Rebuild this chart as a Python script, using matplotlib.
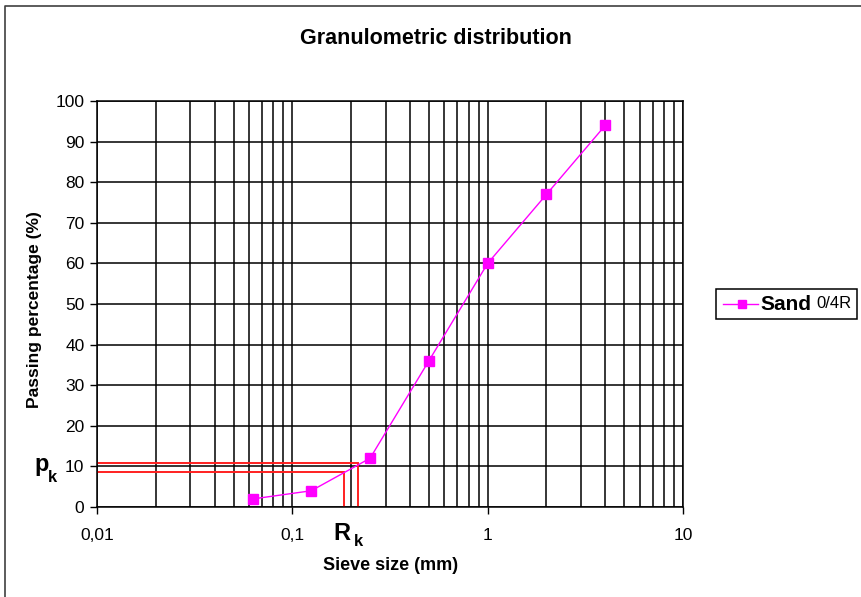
import matplotlib
matplotlib.use("Agg")
import matplotlib.pyplot as plt
from matplotlib.lines import Line2D
import numpy as np

plt.rcParams['font.family'] = ['Liberation Sans', 'DejaVu Sans']

sieve_mm = [0.063, 0.125, 0.25, 0.5, 1, 2, 4]
passing = [2, 4, 12, 36, 60, 77, 94]
rk_x = [0.1845, 0.218]
pk_y = [8.5, 10.9]
x_ticks = [0.01, 0.1, 1, 10]
x_tick_labels = ["0,01", "0,1", "1", "10"]
y_ticks = list(range(0, 101, 10))

W, H = 862, 597
fig = plt.figure(figsize=(W/100, H/100), dpi=100)
ax = fig.add_axes([97/W, 1-507/H, (683-97)/W, (507-101)/H])

ax.set_xscale('log')
ax.set_xlim(0.01, 10)
ax.set_ylim(0, 100)

# grid
for dec in [0.01, 0.1, 1]:
    for m in range(1, 10):
        ax.axvline(dec*m, color='black', lw=1.1, zorder=1)
ax.axvline(10, color='black', lw=1.1, zorder=1)
for yv in y_ticks:
    ax.axhline(yv, color='black', lw=1.1, zorder=1)

# red construction lines
for xv, yv in zip(rk_x, pk_y):
    ax.plot([0.01, xv, xv], [yv, yv, 0], color='#ff2020', lw=1.4, zorder=2, solid_joinstyle='miter')

ax.plot(sieve_mm, passing, color='#ff00ff', lw=1.0, marker='s', markersize=7,
        markerfacecolor='#ff00ff', markeredgecolor='#ff00ff', zorder=3, clip_on=False)

ax.set_xticks(x_ticks)
ax.set_xticklabels(x_tick_labels)
ax.xaxis.set_minor_locator(matplotlib.ticker.NullLocator())
ax.set_yticks(y_ticks)
ax.tick_params(axis='both', direction='out', length=5, width=1, color='black',
               labelsize=12.5, pad=4)
ax.tick_params(axis='x', pad=10)
for s in ax.spines.values():
    s.set_linewidth(1.1)
    s.set_color('black')

fig.text(436/W, 1-38/H, "Granulometric distribution", ha='center', va='center',
         fontsize=15.5, fontweight='bold')
fig.text(35/W, 1-310/H, "Passing percentage (%)", rotation=90, ha='center', va='center',
         fontsize=12.5, fontweight='bold')
fig.text(391/W, 1-566/H, "Sieve size (mm)", ha='center', va='center',
         fontsize=13, fontweight='bold')

fig.text(34/W, 1-465/H, "p", ha='left', va='center', fontsize=17, fontweight='bold')
fig.text(48/W, 1-477/H, "k", ha='left', va='center', fontsize=12, fontweight='bold')
fig.text(333/W, 1-534/H, "R", ha='left', va='center', fontsize=17, fontweight='bold')
fig.text(354/W, 1-542/H, "k", ha='left', va='center', fontsize=12, fontweight='bold')

# legend box
lx0, ly0, lx1, ly1 = 716, 289, 857, 319
fig.add_artist(plt.Rectangle((lx0/W, 1-ly1/H), (lx1-lx0)/W, (ly1-ly0)/H,
                             transform=fig.transFigure, fill=False, edgecolor='black', lw=1.1))
fig.add_artist(Line2D([723/W, 758/W], [1-304/H, 1-304/H], color='#ff00ff', lw=1.0,
                      transform=fig.transFigure))
fig.add_artist(Line2D([742/W], [1-304/H], color='#ff00ff', marker='s', markersize=6,
                      linestyle='none', transform=fig.transFigure))
fig.text(760/W, 1-304/H, "Sand", ha='left', va='center', fontsize=15, fontweight='bold')
fig.text(816/W, 1-304/H, "0/4R", ha='left', va='center', fontsize=12)

# outer border (left and top)
fig.add_artist(Line2D([5/W, 5/W, 1.0], [0.0, 1-6/H, 1-6/H], color='#404040', lw=1.2,
                      transform=fig.transFigure))

fig.savefig("out.png", dpi=100)
